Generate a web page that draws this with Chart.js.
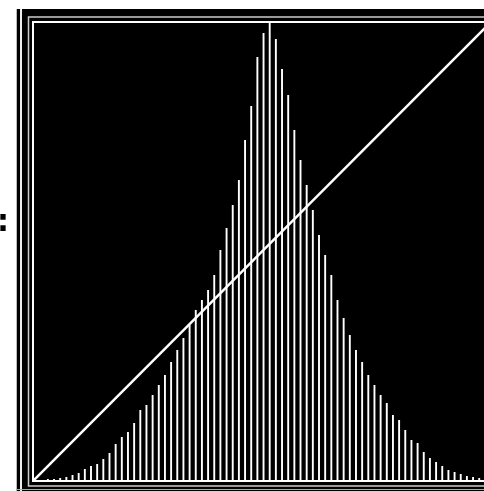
<!DOCTYPE html>
<html>
<head>
<meta charset="utf-8">
<script src="https://cdn.jsdelivr.net/npm/chart.js@4/dist/chart.umd.min.js"></script>
<style>
  html, body { margin: 0; padding: 0; background: #fff; overflow: hidden; }
  #wrap { position: absolute; left: 0; top: 0; width: 500px; height: 491px; }
  #colon { position: absolute; left: -3px; top: 206px; font: bold 30px "DejaVu Sans", sans-serif; color: #000; line-height: 1; }
</style>
</head>
<body>
<div id="wrap"><canvas id="c" width="500" height="491"></canvas></div>
<div id="colon">:</div>
<script>
// Histogram bins (74 levels) and counts
const bins = Array.from({length: 74}, (_, i) => String(i));
const counts = [
  0, 0, 1, 1, 2, 3, 5, 7, 11, 14,
  16, 21, 27, 36, 43, 48, 57, 70, 75, 85,
  95, 105, 118, 130, 142, 155, 170, 180, 190, 205,
  230, 252, 275, 300, 340, 374, 423, 447, 457, 441,
  411, 385, 350, 320, 295, 270, 245, 225, 205, 180,
  162, 145, 130, 118, 105, 95, 85, 77, 65, 60,
  50, 40, 37, 28, 22, 18, 14, 10, 8, 6,
  4, 3, 2, 1
];
// Diagonal reference line (identity curve) end points
const diagX = [0, 1];
const diagY = [0, 457];

const frame = {
  id: 'frame',
  beforeDraw(chart) {
    const ctx = chart.ctx, a = chart.chartArea;
    ctx.save();
    ctx.fillStyle = '#fff';
    ctx.fillRect(0, 0, chart.width, chart.height);
    ctx.fillStyle = '#000';
    ctx.fillRect(16, 9, chart.width, chart.height);
    // left strip lines
    ctx.strokeStyle = '#bbb'; ctx.lineWidth = 1;
    ctx.beginPath(); ctx.moveTo(16.5, 9); ctx.lineTo(16.5, chart.height); ctx.stroke();
    ctx.strokeStyle = '#eee'; ctx.lineWidth = 2;
    ctx.beginPath(); ctx.moveTo(21, 9); ctx.lineTo(21, chart.height); ctx.stroke();
    // outer rectangle
    ctx.strokeStyle = '#ccc'; ctx.lineWidth = 1.5;
    ctx.beginPath();
    ctx.moveTo(chart.width, a.top - 6); ctx.lineTo(a.left - 5.5, a.top - 6);
    ctx.lineTo(a.left - 5.5, a.bottom + 6); ctx.lineTo(chart.width, a.bottom + 6);
    ctx.stroke();
    ctx.strokeStyle = '#aaa'; ctx.lineWidth = 1;
    ctx.beginPath(); ctx.moveTo(16, a.bottom + 9.5); ctx.lineTo(chart.width, a.bottom + 9.5); ctx.stroke();
    ctx.restore();
  },
  afterDraw(chart) {
    const ctx = chart.ctx, a = chart.chartArea;
    ctx.save();
    ctx.strokeStyle = '#fff'; ctx.lineWidth = 2;
    ctx.strokeRect(a.left - 1, a.top - 1, a.right - a.left + 2, a.bottom - a.top + 2);
    ctx.restore();
  }
};

new Chart(document.getElementById('c'), {
  data: {
    labels: bins,
    datasets: [
      {
        type: 'bar', data: counts, backgroundColor: '#fff', borderWidth: 0,
        barPercentage: 0.62, categoryPercentage: 1.0, xAxisID: 'x', yAxisID: 'y'
      },
      {
        type: 'line', data: diagX.map((x, i) => ({x: x, y: diagY[i]})),
        borderColor: '#fff', borderWidth: 2.5, pointRadius: 0, xAxisID: 'x2', yAxisID: 'y'
      }
    ]
  },
  options: {
    responsive: false, animation: false, devicePixelRatio: 1,
    layout: { padding: { left: 34, top: 23, right: 10, bottom: 11 } },
    plugins: { legend: { display: false }, tooltip: { enabled: false } },
    scales: {
      x: { display: false, offset: true },
      x2: { type: 'linear', display: false, min: 0, max: 1 },
      y: { display: false, min: 0, max: 457 }
    }
  },
  plugins: [frame]
});
</script>
</body>
</html>
